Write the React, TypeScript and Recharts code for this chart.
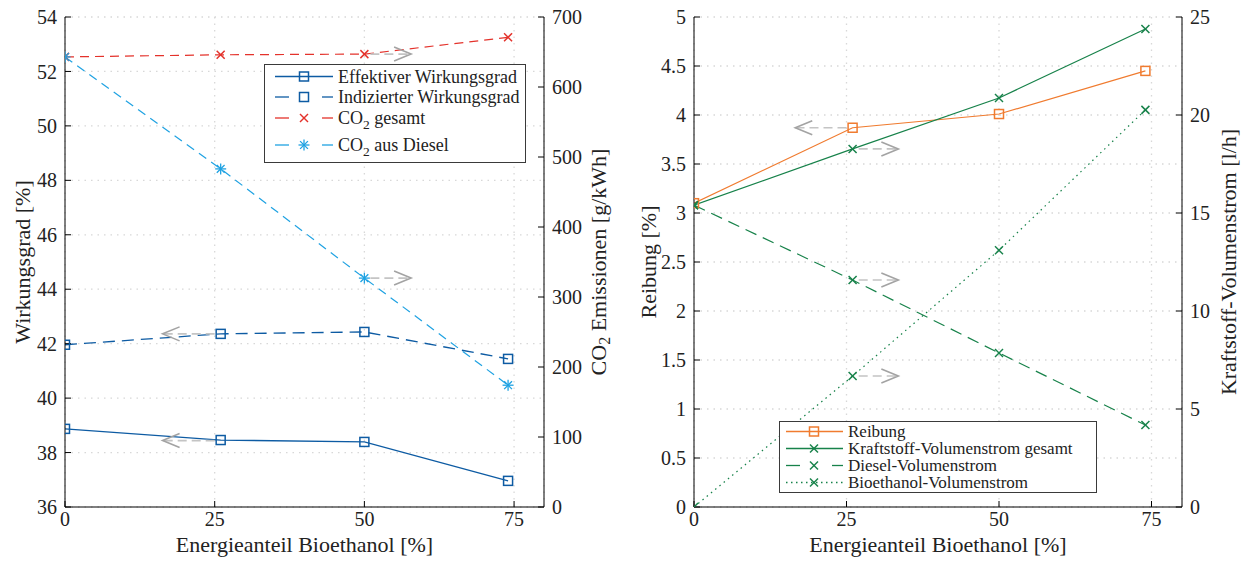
import React from "react";
import { LineChart, Line, XAxis, YAxis, CartesianGrid, ReferenceLine, Legend } from "recharts";

// Energieanteil Bioethanol [%]
const anteil = [0, 26, 50, 74];

// linkes Diagramm
const effektiv = [38.87, 38.46, 38.39, 36.96];
const indiziert = [41.96, 42.36, 42.43, 41.44];
const co2Gesamt = [643, 646, 647, 671];
const co2Diesel = [643, 483, 327, 174];

// rechtes Diagramm
const reibung = [3.1, 3.87, 4.01, 4.45];
const kraftstoffGesamt = [15.4, 18.27, 20.87, 24.39];
const dieselVol = [15.4, 11.58, 7.86, 4.18];
const bioethanolVol = [0, 6.68, 13.1, 20.26];

const xTicks = [0, 25, 50, 75];
const wgTicks = [36, 38, 40, 42, 44, 46, 48, 50, 52, 54];
const co2Ticks = [0, 100, 200, 300, 400, 500, 600, 700];
const reibTicks = [0, 0.5, 1, 1.5, 2, 2.5, 3, 3.5, 4, 4.5, 5];
const volTicks = [0, 5, 10, 15, 20, 25];

const links = anteil.map((x, i) => ({
  x,
  eff: effektiv[i],
  ind: indiziert[i],
  co2g: co2Gesamt[i],
  co2d: co2Diesel[i],
}));

const rechts = anteil.map((x, i) => ({
  x,
  reib: reibung[i],
  kg: kraftstoffGesamt[i],
  dv: dieselVol[i],
  bv: bioethanolVol[i],
}));

const SERIF = "'Liberation Serif', serif";
const BLUE = "#0d5ba3";
const RED = "#e4322b";
const LIGHTBLUE = "#1fa2e2";
const ORANGE = "#f07b2f";
const GREEN = "#17824a";

const tickStyle = { fill: "#222", fontSize: 20, fontFamily: SERIF };

function Square({ cx, cy, color }: any) {
  return <rect x={cx - 4.5} y={cy - 4.5} width={9} height={9} fill="none" stroke={color} strokeWidth={1.5} />;
}

function Cross({ cx, cy, color }: any) {
  const r = 4;
  return (
    <g stroke={color} strokeWidth={1.5}>
      <line x1={cx - r} y1={cy - r} x2={cx + r} y2={cy + r} />
      <line x1={cx - r} y1={cy + r} x2={cx + r} y2={cy - r} />
    </g>
  );
}

function Asterisk({ cx, cy, color }: any) {
  const r = 5.5;
  const d = 3.9;
  return (
    <g stroke={color} strokeWidth={1.3}>
      <line x1={cx} y1={cy - r} x2={cx} y2={cy + r} />
      <line x1={cx - r} y1={cy} x2={cx + r} y2={cy} />
      <line x1={cx - d} y1={cy - d} x2={cx + d} y2={cy + d} />
      <line x1={cx - d} y1={cy + d} x2={cx + d} y2={cy - d} />
    </g>
  );
}

const dotOf = (M: any, color: string) => (p: any) => <M key={p.index} cx={p.cx} cy={p.cy} color={color} />;

// grauer Pfeil zur Achsenzuordnung
function arrowShape(props: any) {
  const { x1, y1, x2, y2 } = props;
  const dir = x2 > x1 ? 1 : -1;
  return (
    <g>
      <line x1={x1} y1={y1} x2={x2} y2={y2} stroke="#c4c4c4" strokeWidth={1.6} strokeDasharray="9 5" />
      <polyline
        points={`${x2 - dir * 17},${y2 - 7} ${x2},${y2} ${x2 - dir * 17},${y2 + 7}`}
        fill="none"
        stroke="#a3a3a3"
        strokeWidth={1.6}
      />
    </g>
  );
}

const yLabel = (content: React.ReactNode, x: number) => (props: any) => {
  const vb = props.viewBox;
  const cy = vb.y + vb.height / 2;
  return (
    <text
      x={x}
      y={cy}
      transform={`rotate(-90 ${x} ${cy})`}
      textAnchor="middle"
      dominantBaseline="central"
      fill="#222"
      fontSize={22}
      fontFamily={SERIF}
    >
      {content}
    </text>
  );
};

const xLabel = (props: any) => {
  const vb = props.viewBox;
  return (
    <text x={vb.x + vb.width / 2} y={552} textAnchor="middle" fill="#222" fontSize={22} fontFamily={SERIF}>
      Energieanteil Bioethanol [%]
    </text>
  );
};

function LegendBox({ rows, width, heights, fontSize, sx1, sx2, mx, pad }: any) {
  return (
    <div
      style={{
        width,
        border: "1px solid #3a3a3a",
        background: "#fff",
        fontFamily: SERIF,
        fontSize,
        lineHeight: 1,
        color: "#222",
        padding: `${pad}px 0`,
        boxSizing: "border-box",
      }}
    >
      {rows.map((r: any, i: number) => {
        const h = heights[i];
        const y = h / 2;
        const M = r.marker;
        return (
          <div key={i} style={{ display: "flex", alignItems: "center", height: h, whiteSpace: "nowrap" }}>
            <svg width={sx2 + 5} height={h} style={{ flex: "none" }}>
              {r.style === "solid" && <line x1={sx1} x2={sx2} y1={y} y2={y} stroke={r.color} strokeWidth={1.3} />}
              {r.style === "dash" && (
                <g stroke={r.color} strokeWidth={1.3}>
                  <line x1={sx1} x2={sx1 + 14} y1={y} y2={y} />
                  <line x1={sx2 - 11} x2={sx2} y1={y} y2={y} />
                </g>
              )}
              {r.style === "dot" && (
                <line x1={sx1} x2={sx2} y1={y} y2={y} stroke={r.color} strokeWidth={1.3} strokeDasharray="1.5 3.5" />
              )}
              <M cx={mx} cy={y} color={r.color} />
            </svg>
            <span>{r.label}</span>
          </div>
        );
      })}
    </div>
  );
}

const co2 = (rest: string) => (
  <span>
    CO<sub style={{ fontSize: "0.75em", verticalAlign: "-0.35em", lineHeight: 0 }}>2</sub>
    {rest}
  </span>
);

const legendLinks = [
  { label: "Effektiver Wirkungsgrad", color: BLUE, style: "solid", marker: Square },
  { label: "Indizierter Wirkungsgrad", color: BLUE, style: "dash", marker: Square },
  { label: co2(" gesamt"), color: RED, style: "dash", marker: Cross },
  { label: co2(" aus Diesel"), color: LIGHTBLUE, style: "dash", marker: Asterisk },
];

const legendRechts = [
  { label: "Reibung", color: ORANGE, style: "solid", marker: Square },
  { label: "Kraftstoff-Volumenstrom gesamt", color: GREEN, style: "solid", marker: Cross },
  { label: "Diesel-Volumenstrom", color: GREEN, style: "dash", marker: Cross },
  { label: "Bioethanol-Volumenstrom", color: GREEN, style: "dot", marker: Cross },
];

const axisCommon = {
  stroke: "#000",
  tick: tickStyle,
  tickSize: -6,
  tickMargin: 14,
  allowDataOverflow: true,
};

export default function App() {
  return (
    <div style={{ position: "absolute", left: 0, top: 0, width: 1248, height: 561, background: "#fff" }}>
      <div style={{ position: "absolute", left: 0, top: 0 }}>
        <LineChart width={620} height={561} data={links} margin={{ top: 17, right: 0, bottom: 0, left: 0 }}>
          <CartesianGrid
            xAxisId="b"
            yAxisId="l"
            stroke="#d8d8d8"
            strokeDasharray="1.5 5"
            strokeWidth={1.3}
          />
          <XAxis
            xAxisId="b"
            dataKey="x"
            type="number"
            domain={[0, 80]}
            ticks={xTicks}
            height={54}
            {...axisCommon}
            tickMargin={11}
            label={xLabel}
          />
          <XAxis xAxisId="t" orientation="top" type="number" domain={[0, 80]} ticks={xTicks} height={0} stroke="#000" tick={false} tickSize={-6} />
          <YAxis
            yAxisId="l"
            domain={[36, 54]}
            ticks={wgTicks}
            width={65}
            {...axisCommon}
            label={yLabel("Wirkungsgrad [%]", 22)}
          />
          <YAxis
            yAxisId="r"
            orientation="right"
            domain={[0, 700]}
            ticks={co2Ticks}
            width={76}
            {...axisCommon}
            label={yLabel(
              <>
                <tspan>CO</tspan>
                <tspan dy={6} fontSize={16}>2</tspan>
                <tspan dy={-6}> Emissionen [g/kWh]</tspan>
              </>,
              598
            )}
          />
          <Line xAxisId="b" yAxisId="l" dataKey="eff" stroke={BLUE} strokeWidth={1.3} dot={dotOf(Square, BLUE)} isAnimationActive={false} />
          <Line xAxisId="b" yAxisId="l" dataKey="ind" stroke={BLUE} strokeWidth={1.3} strokeDasharray="12 7" dot={dotOf(Square, BLUE)} isAnimationActive={false} />
          <Line xAxisId="b" yAxisId="r" dataKey="co2g" stroke={RED} strokeWidth={1.2} strokeDasharray="9 6" dot={dotOf(Cross, RED)} isAnimationActive={false} />
          <Line xAxisId="b" yAxisId="r" dataKey="co2d" stroke={LIGHTBLUE} strokeWidth={1.2} strokeDasharray="9 6" dot={dotOf(Asterisk, LIGHTBLUE)} isAnimationActive={false} />
          <ReferenceLine xAxisId="b" yAxisId="l" segment={[{ x: 25, y: 42.36 }, { x: 16.3, y: 42.36 }]} shape={arrowShape} />
          <ReferenceLine xAxisId="b" yAxisId="l" segment={[{ x: 25, y: 38.44 }, { x: 16.3, y: 38.44 }]} shape={arrowShape} />
          <ReferenceLine xAxisId="b" yAxisId="r" segment={[{ x: 51, y: 647 }, { x: 57.8, y: 647 }]} shape={arrowShape} />
          <ReferenceLine xAxisId="b" yAxisId="r" segment={[{ x: 51, y: 327 }, { x: 57.8, y: 327 }]} shape={arrowShape} />
          <Legend
            layout="vertical"
            align="center"
            verticalAlign="middle"
            wrapperStyle={{ left: 264, top: 64, width: 262 }}
            content={() => (
              <LegendBox rows={legendLinks} width={262} heights={[21, 20, 22, 32]} fontSize={18} sx1={10} sx2={68} mx={39} pad={1} />
            )}
          />
        </LineChart>
      </div>

      <div style={{ position: "absolute", left: 620, top: 0 }}>
        <LineChart width={628} height={561} data={rechts} margin={{ top: 17, right: 0, bottom: 0, left: 0 }}>
          <CartesianGrid xAxisId="b" yAxisId="l" stroke="#d8d8d8" strokeDasharray="1.5 5" strokeWidth={1.3} />
          <XAxis
            xAxisId="b"
            dataKey="x"
            type="number"
            domain={[0, 80]}
            ticks={xTicks}
            height={54}
            {...axisCommon}
            tickMargin={11}
            label={xLabel}
          />
          <XAxis xAxisId="t" orientation="top" type="number" domain={[0, 80]} ticks={xTicks} height={0} stroke="#000" tick={false} tickSize={-6} />
          <YAxis yAxisId="l" domain={[0, 5]} ticks={reibTicks} width={74} {...axisCommon} label={yLabel("Reibung [%]", 28)} />
          <YAxis
            yAxisId="r"
            orientation="right"
            domain={[0, 25]}
            ticks={volTicks}
            width={66}
            {...axisCommon}
            label={yLabel("Kraftstoff-Volumenstrom [l/h]", 608)}
          />
          <Line xAxisId="b" yAxisId="l" dataKey="reib" stroke={ORANGE} strokeWidth={1.2} dot={dotOf(Square, ORANGE)} isAnimationActive={false} />
          <Line xAxisId="b" yAxisId="r" dataKey="kg" stroke={GREEN} strokeWidth={1.2} dot={dotOf(Cross, GREEN)} isAnimationActive={false} />
          <Line xAxisId="b" yAxisId="r" dataKey="dv" stroke={GREEN} strokeWidth={1.2} strokeDasharray="12 7" dot={dotOf(Cross, GREEN)} isAnimationActive={false} />
          <Line xAxisId="b" yAxisId="r" dataKey="bv" stroke={GREEN} strokeWidth={1.2} strokeDasharray="1.5 4" dot={dotOf(Cross, GREEN)} isAnimationActive={false} />
          <ReferenceLine xAxisId="b" yAxisId="l" segment={[{ x: 25, y: 3.87 }, { x: 16.6, y: 3.87 }]} shape={arrowShape} />
          <ReferenceLine xAxisId="b" yAxisId="r" segment={[{ x: 27, y: 18.27 }, { x: 33.5, y: 18.27 }]} shape={arrowShape} />
          <ReferenceLine xAxisId="b" yAxisId="r" segment={[{ x: 27, y: 11.58 }, { x: 33.5, y: 11.58 }]} shape={arrowShape} />
          <ReferenceLine xAxisId="b" yAxisId="r" segment={[{ x: 27, y: 6.68 }, { x: 33.5, y: 6.68 }]} shape={arrowShape} />
          <Legend
            layout="vertical"
            align="center"
            verticalAlign="middle"
            wrapperStyle={{ left: 159, top: 421, width: 318 }}
            content={() => (
              <LegendBox rows={legendRechts} width={318} heights={[17, 17, 17, 17]} fontSize={17} sx1={6} sx2={63} mx={34} pad={1} />
            )}
          />
        </LineChart>
      </div>
    </div>
  );
}
